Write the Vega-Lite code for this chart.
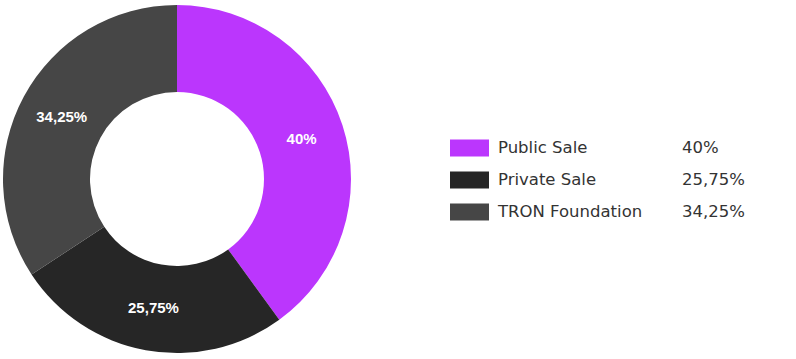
{
  "$schema": "https://vega.github.io/schema/vega-lite/v6.json",
  "background": "white",
  "padding": 0,
  "spacing": 96,
  "config": {"view": {"stroke": null}},
  "data": {"values": [
    {"name": "Public Sale", "value": 40, "label": "40%", "rank": 1},
    {"name": "Private Sale", "value": 25.75, "label": "25,75%", "rank": 2},
    {"name": "TRON Foundation", "value": 34.25, "label": "34,25%", "rank": 3}
  ]},
  "hconcat": [
    {
      "width": 354,
      "height": 358,
      "encoding": {
        "theta": {"field": "value", "type": "quantitative", "stack": true},
        "order": {"field": "rank", "type": "quantitative", "sort": "ascending"},
        "color": {
          "field": "name", "type": "nominal", "legend": null,
          "sort": ["Public Sale", "Private Sale", "TRON Foundation"],
          "scale": {"domain": ["Public Sale", "Private Sale", "TRON Foundation"], "range": ["#BB36FD", "#262626", "#464646"]}
        }
      },
      "layer": [
        {"mark": {"type": "arc", "innerRadius": 87, "outerRadius": 174}},
        {"mark": {"type": "text", "radius": 131, "color": "white", "font": "Liberation Sans", "fontWeight": "bold", "fontSize": 15},
         "encoding": {"text": {"field": "label"}, "color": {"value": "white"}}}
      ]
    },
    {
      "width": 300,
      "height": 358,
      "encoding": {
        "y": {"field": "name", "type": "ordinal", "sort": ["Public Sale", "Private Sale", "TRON Foundation"],
              "scale": {"type": "point", "range": [148, 212], "padding": 0}, "axis": null}
      },
      "layer": [
        {"mark": {"type": "rect", "height": 17},
         "encoding": {
           "x": {"value": 0}, "x2": {"value": 39},
           "color": {"field": "name", "type": "nominal", "legend": null,
             "scale": {"domain": ["Public Sale", "Private Sale", "TRON Foundation"], "range": ["#BB36FD", "#262626", "#464646"]}}
         }},
        {"mark": {"type": "text", "align": "left", "baseline": "middle", "font": "DejaVu Sans", "fontSize": 16.5, "color": "#333333"},
         "encoding": {"x": {"value": 48}, "text": {"field": "name"}}},
        {"mark": {"type": "text", "align": "left", "baseline": "middle", "font": "DejaVu Sans", "fontSize": 16.5, "color": "#333333"},
         "encoding": {"x": {"value": 232}, "text": {"field": "label"}}}
      ]
    }
  ]
}
